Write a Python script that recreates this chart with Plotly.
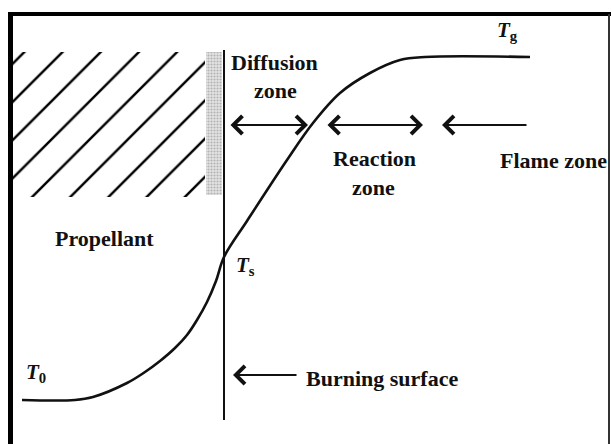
import plotly.graph_objects as go

# ---- data (x = position, y = temperature; diagram units) ----
curve_x = [22, 75, 93, 127, 145, 160, 175, 187, 197, 207, 216, 224, 247, 287, 313, 340, 370, 400, 425, 530]
curve_y = [44, 44, 47, 61, 72, 83, 96, 109, 124, 142, 163, 187, 223, 284, 321, 351, 371, 384, 387, 387]

surface_x = [224, 224]
surface_y = [24, 394]

propellant_x = [12, 205, 205, 12, 12]
propellant_y = [247, 247, 392, 392, 247]

layer_x = [206, 222, 222, 206, 206]
layer_y = [249, 249, 392, 392, 249]

zone_arrow_y = 319
diffusion_span = [229, 308]
reaction_span = [326, 423]
flame_span = [528, 442]
surface_arrow = [298, 233]
surface_arrow_y = 69

labels = [
    ("Diffusion", 274, 382),
    ("zone", 275, 354),
    ("Reaction", 374, 286),
    ("zone", 373, 257),
    ("Flame zone", 553, 284),
    ("Propellant", 104, 206),
    ("Burning surface", 382, 66),
]
temp_labels = [
    ("<i>T</i><sub>g</sub>", 507, 413),
    ("<i>T</i><sub>s</sub>", 245, 178),
    ("<i>T</i><sub>0</sub>", 36, 71),
]

FONT = "Liberation Serif"
INK = "#111111"

fig = go.Figure()

# propellant hatching
fig.add_trace(go.Scatter(
    x=propellant_x, y=propellant_y, mode="lines", fill="toself",
    line=dict(width=0, color="rgba(0,0,0,0)"),
    fillcolor="white",
    fillpattern=dict(shape="/", size=27, solidity=0.09, fgcolor="#000000",
                     bgcolor="white", fgopacity=1),
    hoverinfo="skip", showlegend=False))

# stippled surface layer
fig.add_trace(go.Scatter(
    x=layer_x, y=layer_y, mode="lines", fill="toself",
    line=dict(width=0, color="rgba(0,0,0,0)"),
    fillcolor="#d0d0d0",
    fillpattern=dict(shape=".", size=3, solidity=0.4, fgcolor="#808080", bgcolor="#e4e4e4"),
    hoverinfo="skip", showlegend=False))

# burning surface
fig.add_trace(go.Scatter(
    x=surface_x, y=surface_y, mode="lines",
    line=dict(color=INK, width=2), hoverinfo="skip", showlegend=False))

# temperature profile
fig.add_trace(go.Scatter(
    x=curve_x, y=curve_y, mode="lines",
    line=dict(color=INK, width=2.6, shape="spline", smoothing=1.0),
    hoverinfo="skip", showlegend=False))

annotations = []

def arrow(x_from, x_to, y, both=False):
    annotations.append(dict(
        x=x_to, y=y, ax=x_from, ay=y, xref="x", yref="y", axref="x", ayref="y",
        text="", showarrow=True, arrowhead=4, startarrowhead=4,
        arrowside="end+start" if both else "end",
        arrowwidth=2.2, arrowsize=1.6, startarrowsize=1.6, arrowcolor=INK,
        standoff=0, startstandoff=0))

arrow(diffusion_span[0], diffusion_span[1], zone_arrow_y, both=True)
arrow(reaction_span[0], reaction_span[1], zone_arrow_y, both=True)
arrow(flame_span[0], flame_span[1], zone_arrow_y)
arrow(surface_arrow[0], surface_arrow[1], surface_arrow_y)

for txt, x, y in labels:
    annotations.append(dict(
        x=x, y=y, xref="x", yref="y", text=f"<b>{txt}</b>", showarrow=False,
        xanchor="center", yanchor="middle",
        font=dict(family=FONT, size=22, color=INK)))

for txt, x, y in temp_labels:
    annotations.append(dict(
        x=x, y=y, xref="x", yref="y", text=f"<b>{txt}</b>", showarrow=False,
        xanchor="center", yanchor="middle",
        font=dict(family=FONT, size=21, color=INK)))

# frame
shapes = [
    dict(type="line", xref="x", yref="y", x0=8, x1=611, y0=430, y1=430,
         line=dict(color="black", width=4)),
    dict(type="line", xref="x", yref="y", x0=10.5, x1=10.5, y0=-5, y1=432,
         line=dict(color="black", width=5)),
    dict(type="line", xref="x", yref="y", x0=609, x1=609, y0=-5, y1=430,
         line=dict(color="#333333", width=2)),
]

fig.update_layout(
    width=611, height=444,
    margin=dict(l=0, r=0, t=0, b=0),
    paper_bgcolor="white", plot_bgcolor="white",
    xaxis=dict(range=[0, 611], visible=False, fixedrange=True),
    yaxis=dict(range=[0, 444], visible=False, fixedrange=True),
    annotations=annotations, shapes=shapes,
    showlegend=False,
)

fig.write_html(
    "out.html",
    config={"displayModeBar": False},
    post_script="document.body.style.margin='0';document.body.style.overflow='hidden';",
)
